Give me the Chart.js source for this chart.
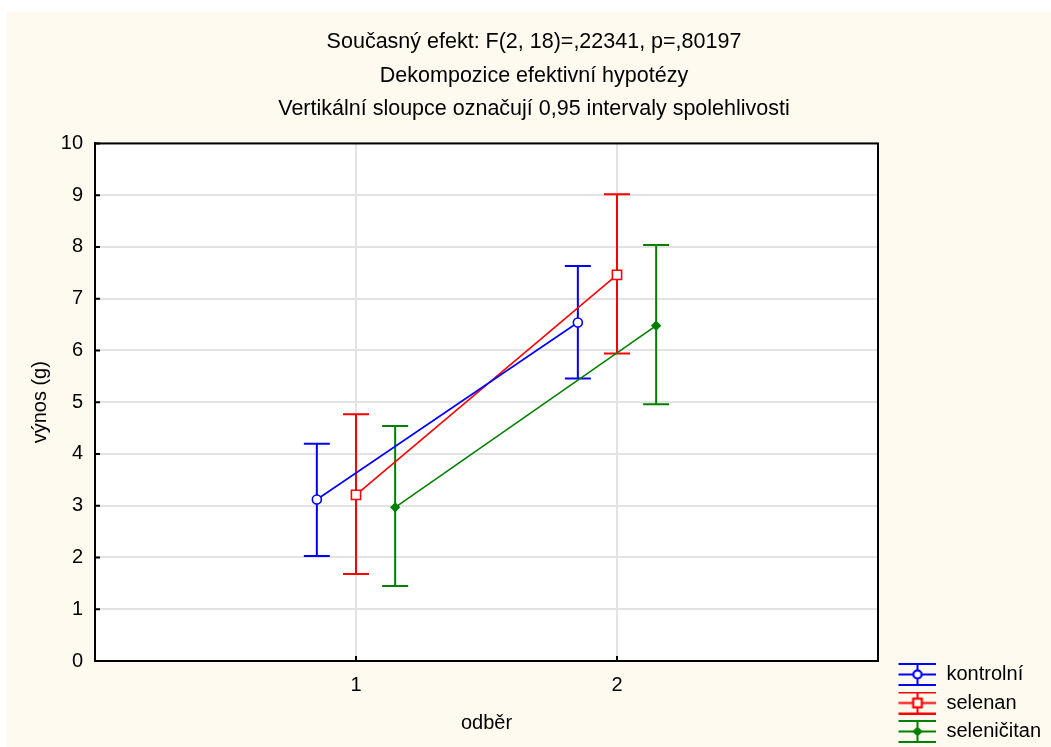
<!DOCTYPE html>
<html lang="cs">
<head>
<meta charset="utf-8">
<title>výnos (g) podle odběru</title>
<script src="https://cdn.jsdelivr.net/npm/chart.js@4.4.1/dist/chart.umd.min.js"></script>
<style>
  html, body { margin: 0; padding: 0; background: #ffffff; }
  #frame {
    position: absolute;
    left: 7px; top: 12px;
    width: 1044px; height: 735px;
    background: #fffaf0;
  }
</style>
</head>
<body>
<div id="frame"><canvas id="chart"></canvas></div>
<script>
// -------------------------------------------------------
// DATA (means and 0.95 confidence limits per odběr)
const odberTicks = [1, 2];
const seriesNames = ["kontrolní", "selenan", "seleničitan"];

const kontrolniMean = [3.12, 6.54];
const kontrolniLow = [2.03, 5.46];
const kontrolniHigh = [4.20, 7.63];

const selenanMean = [3.21, 7.46];
const selenanLow = [1.68, 5.94];
const selenanHigh = [4.77, 9.02];

const selenicitanMean = [2.97, 6.48];
const selenicitanLow = [1.45, 4.96];
const selenicitanHigh = [4.54, 8.04];

const yTicks = [0, 1, 2, 3, 4, 5, 6, 7, 8, 9, 10];

const titleLines = [
  "Současný efekt: F(2, 18)=,22341, p=,80197",
  "Dekompozice efektivní hypotézy",
  "Vertikální sloupce označují 0,95 intervaly spolehlivosti",
];

// -------------------------------------------------------
// STYLE
const FONT = "'Liberation Sans', Arial, sans-serif";
const colors = ["#0000ff", "#ff0000", "#008000"];
const markers = ["circle", "rect", "rectRot"];
const markerRadius = [4.5, 6.5, 4];
const markerFill = ["#ffffff", "#ffffff", "#008000"];
const groupShift = [-0.15, 0, 0.15]; // side-by-side placement within each odběr
const CAP = 13;
const ICON_GAP = 12; // empty space left of the legend whisker

function toPoints(means, shift) {
  return means.map((m, i) => ({ x: odberTicks[i] + shift, y: m }));
}

const groups = [
  { mean: kontrolniMean, low: kontrolniLow, high: kontrolniHigh },
  { mean: selenanMean, low: selenanLow, high: selenanHigh },
  { mean: selenicitanMean, low: selenicitanLow, high: selenicitanHigh },
];

const datasets = groups.map((g, k) => ({
  label: seriesNames[k],
  data: toPoints(g.mean, groupShift[k]),
  errLow: g.low,
  errHigh: g.high,
  borderColor: colors[k],
  backgroundColor: markerFill[k],
  borderWidth: 1.6,
  pointStyle: markers[k],
  pointRadius: markerRadius[k],
  pointBorderWidth: 1.6,
  pointBorderColor: colors[k],
  pointBackgroundColor: markerFill[k],
  fill: false,
  tension: 0,
}));

// Legend icon: whisker with caps and the series marker in the middle
function legendIcon(k) {
  const c = document.createElement("canvas");
  c.width = 38 + ICON_GAP; c.height = 23;
  const g = c.getContext("2d");
  g.translate(ICON_GAP, 0);
  g.strokeStyle = colors[k];
  g.lineWidth = 2;
  g.beginPath();
  [1, 11.5, 22].forEach((y) => { g.moveTo(0, y); g.lineTo(38, y); });
  g.moveTo(19, 1); g.lineTo(19, 22);
  g.stroke();
  Chart.helpers.drawPoint(g, {
    pointStyle: markers[k], radius: markerRadius[k] - 0.5, borderWidth: 1.6,
  }, 19, 11.5);
  g.fillStyle = markerFill[k];
  g.fill();
  g.stroke();
  return c;
}

// -------------------------------------------------------
// PLUGINS
const plotFrame = {
  id: "plotFrame",
  afterLayout(chart) {
    // sit the legend a little lower in the corner
    if (chart.legend) {
      chart.legend.top += 3;
      chart.legend.bottom += 3;
    }
  },
  beforeDraw(chart) {
    const { ctx, chartArea: a } = chart;
    ctx.save();
    ctx.fillStyle = "#ffffff";
    ctx.fillRect(a.left, a.top, a.right - a.left, a.bottom - a.top);
    ctx.restore();
  },
  afterDatasetsDraw(chart) {
    const { ctx, chartArea: a, scales } = chart;
    ctx.save();
    ctx.strokeStyle = "#000000";
    ctx.lineWidth = 2;
    ctx.strokeRect(a.left, a.top, a.right - a.left, a.bottom - a.top);
    // inward tick marks
    ctx.beginPath();
    yTicks.forEach((v) => {
      const y = scales.y.getPixelForValue(v);
      ctx.moveTo(a.left, y); ctx.lineTo(a.left + 5, y);
    });
    odberTicks.forEach((v) => {
      const x = scales.x.getPixelForValue(v);
      ctx.moveTo(x, a.bottom); ctx.lineTo(x, a.bottom - 5);
    });
    ctx.stroke();
    ctx.restore();
  },
};

const errorBars = {
  id: "errorBars",
  beforeDatasetsDraw(chart) {
    const { ctx, scales } = chart;
    ctx.save();
    ctx.lineWidth = 2;
    chart.data.datasets.forEach((ds) => {
      ctx.strokeStyle = ds.borderColor;
      ds.data.forEach((p, i) => {
        const x = scales.x.getPixelForValue(p.x);
        const yl = scales.y.getPixelForValue(ds.errLow[i]);
        const yh = scales.y.getPixelForValue(ds.errHigh[i]);
        ctx.beginPath();
        ctx.moveTo(x, yh); ctx.lineTo(x, yl);
        ctx.moveTo(x - CAP, yh); ctx.lineTo(x + CAP, yh);
        ctx.moveTo(x - CAP, yl); ctx.lineTo(x + CAP, yl);
        ctx.stroke();
      });
    });
    ctx.restore();
  },
};

// -------------------------------------------------------
// CHART
const icons = seriesNames.map((n, k) => legendIcon(k));

new Chart(document.getElementById("chart"), {
  type: "line",
  data: { datasets },
  plugins: [plotFrame, errorBars],
  options: {
    responsive: true,
    maintainAspectRatio: false,
    animation: false,
    devicePixelRatio: 1,
    layout: { padding: { left: 10, right: 0, top: 0, bottom: 0 } },
    plugins: {
      title: {
        display: true,
        text: titleLines,
        color: "#000000",
        font: { family: FONT, size: 21.5, weight: "normal", lineHeight: 1.542 },
        padding: { top: 14, bottom: 18 },
      },
      legend: {
        display: true,
        position: "right",
        align: "end",
        labels: {
          color: "#000000",
          font: { family: FONT, size: 20 },
          usePointStyle: true,
          pointStyleWidth: 38 + ICON_GAP,
          padding: 8.5,
          generateLabels(chart) {
            const items = Chart.defaults.plugins.legend.labels.generateLabels(chart);
            items.forEach((it, k) => { it.pointStyle = icons[k]; });
            return items;
          },
        },
      },
      tooltip: { enabled: false },
    },
    scales: {
      x: {
        type: "linear",
        min: 0,
        max: 3,
        afterBuildTicks(scale) {
          scale.ticks = odberTicks.map((v) => ({ value: v }));
        },
        afterFit(scale) { scale.height = 86; },
        grid: { color: "#e3e3e3", lineWidth: 2, drawTicks: false },
        border: { color: "#000000", width: 2 },
        ticks: {
          color: "#000000",
          font: { family: FONT, size: 20 },
          padding: 12,
          callback: (v) => String(v),
        },
        title: {
          display: true,
          text: "odběr",
          color: "#000000",
          font: { family: FONT, size: 20 },
          padding: { top: 0, bottom: 12 },
        },
      },
      y: {
        min: 0,
        max: 10,
        afterBuildTicks(scale) {
          scale.ticks = yTicks.map((v) => ({ value: v }));
        },
        afterFit(scale) { scale.width = 78; },
        grid: { color: "#e3e3e3", lineWidth: 2, drawTicks: false },
        border: { color: "#000000", width: 2 },
        ticks: {
          color: "#000000",
          font: { family: FONT, size: 20 },
          padding: 12,
        },
        title: {
          display: true,
          text: "výnos (g)",
          color: "#000000",
          font: { family: FONT, size: 20 },
          padding: { top: 11, bottom: 0 },
        },
      },
    },
    elements: { line: { borderCapStyle: "butt" } },
  },
});
</script>
</body>
</html>
